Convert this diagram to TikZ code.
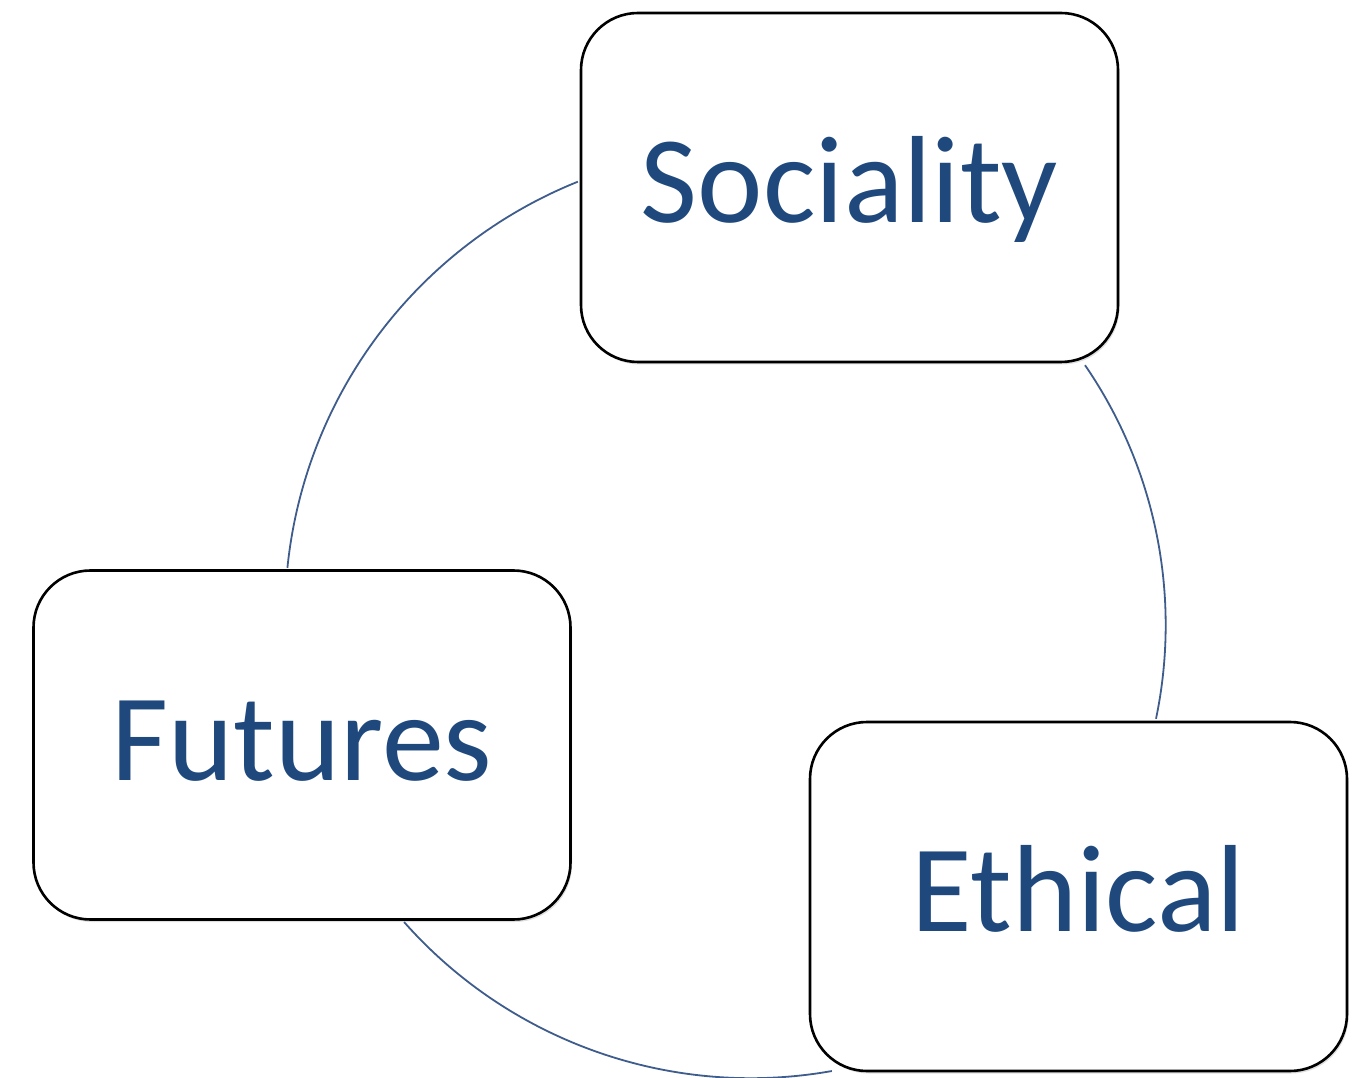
\documentclass[tikz,border=0pt]{standalone}
\usepackage{fontspec}
\setmainfont{Carlito}
\usetikzlibrary{shadows}
\definecolor{txtblue}{RGB}{31,73,125}
\definecolor{arcblue}{RGB}{62,92,140}
\begin{document}
\begin{tikzpicture}[x=1pt,y=1pt,
  box/.style={draw=black, line width=2.6pt, fill=white, rounded corners=57pt,
    minimum width=537pt, minimum height=349pt, inner sep=0pt,
    font=\fontsize{124}{124}\selectfont, text=txtblue,
    text height=78pt, text depth=8pt,
    drop shadow={shadow xshift=1.5pt, shadow yshift=-2.5pt, opacity=0.25}},
  cyc/.style={draw=arcblue, line width=1.8pt}]
\useasboundingbox (0,0) rectangle (1364,1077);
% arc centres
\coordinate (c1) at (752,462);
\coordinate (c2) at (707,452);
\coordinate (c3) at (750.7,461.6);
% arc end points
\coordinate (a1s) at ([shift={(111.9:467)}]c1);
\coordinate (a2s) at ([shift={(34.5:458.7)}]c2);
\coordinate (a3s) at ([shift={(221.5:462.8)}]c3);
\draw[cyc] (a1s) arc[start angle=111.9, end angle=174.2, radius=467];
\draw[cyc] (a2s) arc[start angle=34.5, end angle=-11.8, radius=458.7];
\draw[cyc] (a3s) arc[start angle=221.5, end angle=280.1, radius=462.8];
% boxes
\node[box] (soc) at (849.5,889.5) {Sociality};
\node[box] (fut) at (302,332) {Futures};
\node[box] (eth) at (1078.5,180.5) {Ethical};
\end{tikzpicture}
\end{document}
